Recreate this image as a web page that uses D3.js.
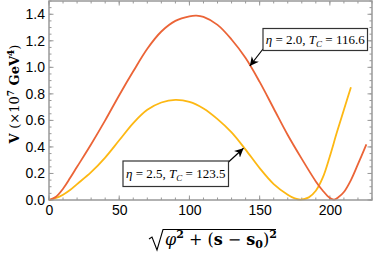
<!DOCTYPE html>
<html>
<head>
<meta charset="utf-8">
<script src="https://cdn.jsdelivr.net/npm/d3@7"></script>
<style>
  body { margin: 0; background: #fff; }
  svg { display: block; }
  .tick text { font-family: "Liberation Sans", Arial, sans-serif; font-size: 14px; fill: #000; }
  .math { font-family: "DejaVu Serif", "Liberation Serif", serif; }
  .note { font-family: "Liberation Serif", "DejaVu Serif", serif; }
</style>
</head>
<body>
<svg id="chart" width="374" height="254"></svg>
<script>
// curve eta = 2.0 (red)
var redX = [0, 5, 10, 15, 20, 30, 40, 50, 60, 70, 80, 90, 100, 105, 110, 120, 130, 140, 150, 160, 170, 180, 190, 195, 200, 203, 206, 210, 215, 220, 226];
var redV = [0, 0.025, 0.085, 0.165, 0.25, 0.42, 0.60, 0.79, 0.97, 1.14, 1.27, 1.35, 1.385, 1.39, 1.38, 1.32, 1.21, 1.07, 0.89, 0.69, 0.49, 0.31, 0.14, 0.07, 0.015, 0.003, 0.02, 0.06, 0.15, 0.27, 0.42];
// curve eta = 2.5 (yellow)
var yelX = [0, 5, 10, 15, 20, 30, 40, 50, 60, 70, 80, 90, 100, 110, 120, 130, 140, 150, 160, 170, 175, 179, 185, 190, 195, 200, 205, 210, 215];
var yelV = [0, 0.015, 0.04, 0.075, 0.12, 0.21, 0.32, 0.45, 0.58, 0.68, 0.735, 0.755, 0.74, 0.69, 0.61, 0.51, 0.38, 0.24, 0.12, 0.04, 0.012, 0.003, 0.02, 0.07, 0.17, 0.33, 0.51, 0.68, 0.85];

var xTicks = [0, 50, 100, 150, 200];
var yTicks = [0, 0.2, 0.4, 0.6, 0.8, 1.0, 1.2, 1.4];

var margin = {top: 1, right: 2, bottom: 54, left: 49},
    width = 374 - margin.left - margin.right,
    height = 254 - margin.top - margin.bottom;

var svg = d3.select('#chart');
var g = svg.append('g')
    .attr('transform', 'translate(' + margin.left + ',' + margin.top + ')');

var x = d3.scaleLinear().domain([0, 230]).range([0, width]);
var y = d3.scaleLinear().domain([0, 1.5]).range([height, 0]);

var line = d3.line()
    .x(function(d) { return x(d[0]); })
    .y(function(d) { return y(d[1]); })
    .curve(d3.curveCatmullRom.alpha(0.5));

var frameCol = '#999';

// ticks inside the frame, all four sides
function ticksInside(axis, vals, len) {
  vals.forEach(function(v) {
    if (axis == 'x') {
      g.append('line').attr('x1', x(v)).attr('x2', x(v)).attr('y1', height).attr('y2', height - len)
        .attr('stroke', frameCol);
      g.append('line').attr('x1', x(v)).attr('x2', x(v)).attr('y1', 0).attr('y2', len)
        .attr('stroke', frameCol);
    } else {
      g.append('line').attr('y1', y(v)).attr('y2', y(v)).attr('x1', 0).attr('x2', len)
        .attr('stroke', frameCol);
      g.append('line').attr('y1', y(v)).attr('y2', y(v)).attr('x1', width).attr('x2', width - len)
        .attr('stroke', frameCol);
    }
  });
}
ticksInside('x', d3.range(0, 231, 10), 2.5);
ticksInside('x', xTicks, 4.5);
ticksInside('y', d3.range(0, 1.501, 0.05), 2.5);
ticksInside('y', yTicks, 4.5);

// axes, labels only
g.append('g')
    .attr('transform', 'translate(0,' + height + ')')
    .call(d3.axisBottom(x).tickValues(xTicks).tickSize(0).tickPadding(5).tickFormat(d3.format('d')))
  .select('.domain').remove();

g.append('g')
    .call(d3.axisLeft(y).tickValues(yTicks).tickSize(0).tickPadding(4).tickFormat(d3.format('.1f')))
  .select('.domain').remove();

// curves
g.append('path')
    .datum(d3.zip(yelX, yelV))
    .attr('d', line)
    .attr('fill', 'none')
    .attr('stroke', '#FDB813')
    .attr('stroke-width', 1.8);

g.append('path')
    .datum(d3.zip(redX, redV))
    .attr('d', line)
    .attr('fill', 'none')
    .attr('stroke', '#EB6437')
    .attr('stroke-width', 1.8);

// frame
g.append('rect')
    .attr('width', width).attr('height', height)
    .attr('fill', 'none')
    .attr('stroke', frameCol)
    .attr('stroke-width', 1.5);

// arrow marker
svg.append('defs').append('marker')
    .attr('id', 'arr')
    .attr('viewBox', '0 0 10 10')
    .attr('refX', 10).attr('refY', 5)
    .attr('markerWidth', 9).attr('markerHeight', 9)
    .attr('markerUnits', 'userSpaceOnUse')
    .attr('orient', 'auto')
  .append('path')
    .attr('d', 'M0,0 L10,5 L0,10 L3,5 Z')
    .attr('fill', '#000');

// annotations (box in page pixels, arrow tip in data units)
function note(bx, by, bw, bh, eta, tc, from, to) {
  svg.append('line')
      .attr('x1', from[0]).attr('y1', from[1])
      .attr('x2', margin.left + x(to[0])).attr('y2', margin.top + y(to[1]))
      .attr('stroke', '#000').attr('stroke-width', 1.2)
      .attr('marker-end', 'url(#arr)');
  svg.append('rect')
      .attr('x', bx).attr('y', by).attr('width', bw).attr('height', bh)
      .attr('fill', '#fff').attr('stroke', '#333').attr('stroke-width', 1.2);
  var t = svg.append('text')
      .attr('class', 'note')
      .attr('x', bx + bw / 2).attr('y', by + bh / 2 + 4)
      .attr('text-anchor', 'middle')
      .attr('font-size', '13px');
  t.append('tspan').attr('font-style', 'italic').text('η');
  t.append('tspan').text(' = ' + eta + ', ');
  t.append('tspan').attr('font-style', 'italic').text('T');
  t.append('tspan').attr('font-style', 'italic').attr('font-size', '9px').attr('dy', 3).text('C');
  t.append('tspan').attr('dy', -3).text(' = ' + tc);
}
note(263, 28.5, 104.5, 22, '2.0', '116.6', [263, 49], [143, 1.01]);
note(123, 161, 105.5, 25.5, '2.5', '123.5', [228.5, 162], [138.5, 0.39]);

// y label
var yl = svg.append('text')
    .attr('class', 'math')
    .attr('transform', 'translate(19,' + (margin.top + 93) + ') rotate(-90)')
    .attr('text-anchor', 'middle')
    .attr('font-size', '13px')
    .attr('font-weight', 'bold');
yl.append('tspan').text('V ');
yl.append('tspan').attr('font-weight', 'normal').text('(×10');
yl.append('tspan').attr('font-size', '9px').attr('dy', -5).text('7');
yl.append('tspan').attr('dy', 5).text(' GeV');
yl.append('tspan').attr('font-size', '9px').attr('dy', -5).text('4');
yl.append('tspan').attr('font-weight', 'normal').attr('dy', 5).text(')');

// x label: sqrt(phi^2 + (s - s0)^2)
var xl = svg.append('text')
    .attr('class', 'math')
    .attr('x', 165).attr('y', 245)
    .attr('font-size', '16px');
xl.append('tspan').attr('font-style', 'italic').text('φ');
xl.append('tspan').attr('font-size', '11px').attr('font-weight', 'bold').attr('dy', -7).text('2');
xl.append('tspan').attr('dy', 7).text(' + (');
xl.append('tspan').attr('font-weight', 'bold').text('s');
xl.append('tspan').text(' − ');
xl.append('tspan').attr('font-weight', 'bold').text('s');
xl.append('tspan').attr('font-size', '11px').attr('font-weight', 'bold').attr('dy', 3).text('0');
xl.append('tspan').attr('dy', -3).text(')');
xl.append('tspan').attr('font-size', '11px').attr('font-weight', 'bold').attr('dy', -7).text('2');

svg.append('path')
    .attr('d', 'M149,239 L152,237 L157,250 L163,229.5 L276,229.5')
    .attr('fill', 'none')
    .attr('stroke', '#000')
    .attr('stroke-width', 1.1);
</script>
</body>
</html>
